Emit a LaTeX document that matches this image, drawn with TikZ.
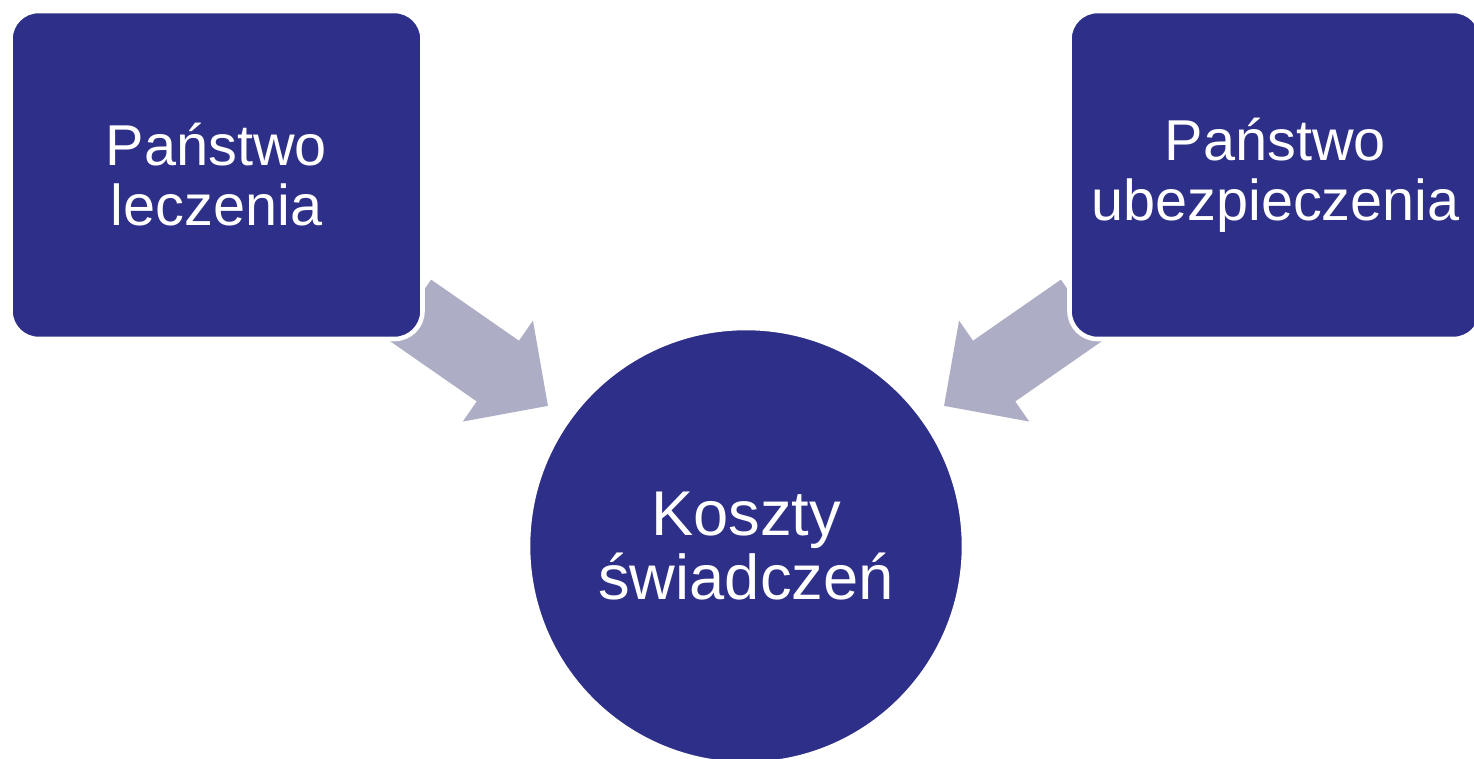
\documentclass[tikz,border=0pt]{standalone}
\usepackage{fontspec}
\setmainfont{Liberation Sans}
\usepackage{xcolor}
\usetikzlibrary{positioning}

\definecolor{boxblue}{HTML}{2E2F88}
\definecolor{flowgrey}{HTML}{ADAEC5}

\begin{document}
\begin{tikzpicture}[
    box/.style={shape=rectangle, rounded corners=0.28cm, fill=boxblue, draw=white, line width=1.3pt,
      minimum width=4.12cm, minimum height=3.28cm, text=white, align=center,
      font=\fontsize{16.4}{17.1}\selectfont},
    disc/.style={shape=circle, fill=boxblue, draw=white, line width=1.3pt, minimum size=4.36cm,
      text=white, align=center, font=\fontsize{18}{18.2}\selectfont},
    flow/.style={fill=flowgrey}]
    \useasboundingbox (0,0) rectangle (14.74,7.59);
    \clip (0,0) rectangle (14.74,7.59);

    % block arrows (drawn first, boxes lie on top of their tails)
    \coordinate (tailL) at (4.10,4.49);
    \coordinate (tailR) at (10.82,4.49);
    \begin{scope}[shift={(tailL)}, rotate=-34.8]
      \fill[flow] (0,-0.37) -- (1.07,-0.37) -- (1.07,-0.615) -- (1.68,0)
        -- (1.07,0.615) -- (1.07,0.37) -- (0,0.37) -- cycle;
    \end{scope}
    \begin{scope}[shift={(tailR)}, rotate=214.8]
      \fill[flow] (0,-0.37) -- (1.07,-0.37) -- (1.07,-0.615) -- (1.68,0)
        -- (1.07,0.615) -- (1.07,0.37) -- (0,0.37) -- cycle;
    \end{scope}

    \node[box] (leczenie) at (2.165,5.84) {Państwo\\leczenia};
    \node[box] (ubezp) at (12.755,5.84) {Państwo\\ubezpieczenia};
    \node[disc] (koszty) at (7.46,2.13) {Koszty\\świadczeń};
\end{tikzpicture}
\end{document}
